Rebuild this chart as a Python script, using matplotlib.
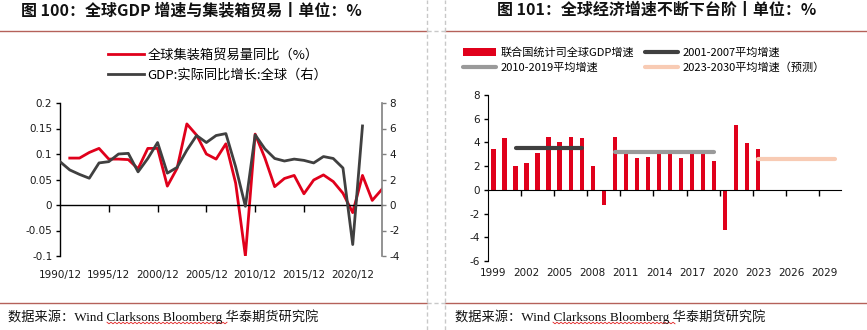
import numpy as np
import matplotlib
matplotlib.use('Agg')
import matplotlib.pyplot as plt
from matplotlib.lines import Line2D

plt.rcParams['font.family'] = ['Noto Sans CJK SC', 'DejaVu Sans']
plt.rcParams['axes.unicode_minus'] = False

# ---- left chart: container trade vs global GDP ----
trade_years = list(range(1991, 2024))
trade_yoy = [0.092, 0.092, 0.103, 0.111, 0.090, 0.090, 0.089, 0.071, 0.111, 0.111,
             0.037, 0.072, 0.159, 0.137, 0.100, 0.090, 0.120, 0.043, -0.100, 0.139,
             0.092, 0.036, 0.052, 0.058, 0.022, 0.049, 0.059, 0.046, 0.023, -0.015,
             0.058, 0.009, 0.031]
gdp_years = list(range(1990, 2022))
gdp_yoy = [3.4, 2.75, 2.4, 2.1, 3.3, 3.4, 4.0, 4.05, 2.6, 3.65,
           4.9, 2.5, 2.95, 4.3, 5.45, 4.9, 5.45, 5.6, 3.0, -0.1,
           5.5, 4.4, 3.65, 3.45, 3.6, 3.5, 3.3, 3.8, 3.65, 2.9,
           -3.1, 6.2]
left_xticks = [1990, 1995, 2000, 2005, 2010, 2015, 2020]
left_xlabels = ['1990/12', '1995/12', '2000/12', '2005/12', '2010/12', '2015/12', '2020/12']
left_yticks = [-0.1, -0.05, 0, 0.05, 0.1, 0.15, 0.2]
left_ylabels = ['-0.1', '-0.05', '0', '0.05', '0.1', '0.15', '0.2']
right_yticks = [-4, -2, 0, 2, 4, 6, 8]

# ---- right chart: world GDP growth ----
un_years = list(range(1999, 2031))
un_gdp = [3.44, 4.38, 2.0, 2.25, 3.1, 4.47, 4.04, 4.47, 4.38, 2.0,
          -1.31, 4.47, 3.36, 2.67, 2.76, 3.1, 3.1, 2.67, 3.25, 3.2,
          2.42, -3.36, 5.49, 3.95, 3.44, np.nan, np.nan, np.nan, np.nan, np.nan,
          np.nan, np.nan]
avg_labels = ['2001-2007平均增速', '2010-2019平均增速', '2023-2030平均增速（预测）']
avg_start = [2001, 2010, 2023]
avg_end = [2007, 2019, 2030]
avg_value = [3.55, 3.16, 2.58]
bar_yticks = [-6, -4, -2, 0, 2, 4, 6, 8]

RED = '#e0001b'
DARK = '#404040'
avg_colors = ['#404040', '#9a9a9a', '#f8cbb4']
TXT = '#1a1a1a'

W, H = 867, 330
fig = plt.figure(figsize=(W / 100, H / 100), dpi=100)


def box(l, t, r, b):
    return [l / W, 1 - b / H, (r - l) / W, (b - t) / H]


# ---------- left chart ----------
ax = fig.add_axes(box(60, 103, 382, 256))
ax2 = ax.twinx()
l1, = ax.plot(trade_years, trade_yoy, color=RED, lw=2, label='全球集装箱贸易量同比（%）')
l2, = ax2.plot(gdp_years, gdp_yoy, color=DARK, lw=2, label='GDP:实际同比增长:全球（右）')
ax.set_xlim(1990, 2023)
ax.set_ylim(-0.1, 0.2)
ax2.set_ylim(-4, 8)
for s in ['top', 'right']:
    ax.spines[s].set_visible(False)
for s in ['top', 'left']:
    ax2.spines[s].set_visible(False)
ax2.spines['bottom'].set_visible(False)
ax.spines['bottom'].set_position(('data', 0))
ax.spines['bottom'].set_linewidth(1)
ax.spines['left'].set_linewidth(1)
ax2.spines['right'].set_color('#808080')
ax2.spines['right'].set_linewidth(1.2)
ax.set_xticks(left_xticks[1:])
ax.tick_params(axis='x', direction='out', length=5, labelbottom=False, width=1)
ax.set_yticks(left_yticks)
ax.set_yticklabels(left_ylabels, family='DejaVu Sans', fontsize=7.5, color=TXT)
ax.tick_params(axis='y', direction='out', length=3, pad=2.5, width=1)
ax2.set_yticks(right_yticks)
ax2.set_yticklabels([str(v) for v in right_yticks], family='DejaVu Sans', fontsize=7.5, color=TXT)
ax2.tick_params(axis='y', direction='out', length=3, pad=2.5, color='#808080', width=1)
sx = ax.secondary_xaxis(0)
sx.set_xticks(left_xticks)
sx.set_xticklabels(left_xlabels, family='DejaVu Sans', fontsize=7.5, color=TXT)
sx.tick_params(length=0, pad=10)
sx.spines['bottom'].set_visible(False)
fig.legend(handles=[l1, l2], loc='upper left', bbox_to_anchor=(108 / W, 1 - 49 / H),
           frameon=False, fontsize=9.5, handlelength=2.7, handletextpad=0.3,
           labelspacing=0.5, borderpad=0, borderaxespad=0)

# ---------- right chart ----------
bx = fig.add_axes(box(488, 95, 841, 261))
idx = np.arange(len(un_years))
bars = bx.bar(idx, un_gdp, width=0.4, color=RED, label='联合国统计司全球GDP增速', zorder=2)
avg_lines = []
for lab, a, b, v, c in zip(avg_labels, avg_start, avg_end, avg_value, avg_colors):
    i0, i1 = un_years.index(a), un_years.index(b)
    ln, = bx.plot([i0, i1], [v, v], color=c, lw=3, solid_capstyle='round', label=lab, zorder=3)
    avg_lines.append(ln)
bx.set_xlim(-0.5, len(un_years) - 0.5)
bx.set_ylim(-6, 8)
for s in ['top', 'right']:
    bx.spines[s].set_visible(False)
bx.spines['bottom'].set_position(('data', 0))
bx.set_xticks(np.arange(2.5, len(un_years) - 1, 3))
bx.tick_params(axis='x', direction='out', length=4, labelbottom=False, width=1)
bx.set_yticks(bar_yticks)
bx.set_yticklabels([str(v) for v in bar_yticks], family='DejaVu Sans', fontsize=7.5, color=TXT)
bx.tick_params(axis='y', direction='out', length=3, pad=2.5, width=1)
sbx = bx.secondary_xaxis(0)
sbx.set_xticks(idx[::3])
sbx.set_xticklabels([str(y) for y in un_years[::3]], family='DejaVu Sans', fontsize=7.5, color=TXT)
sbx.tick_params(length=0, pad=5)
sbx.spines['bottom'].set_visible(False)
fig.legend(handles=[bars, avg_lines[1], avg_lines[0], avg_lines[2]], ncol=2,
           loc='upper left', bbox_to_anchor=(463 / W, 1 - 47 / H), frameon=False,
           fontsize=8, handlelength=3.0, handletextpad=0.35, labelspacing=0.4,
           columnspacing=1.0, borderpad=0, borderaxespad=0)

# ---------- titles, rules, footers ----------
fig.text(21 / W, 1 - 10 / H, '图 100：全球GDP 增速与集装箱贸易丨单位：%', fontsize=11.5,
         fontweight='bold', va='center', ha='left', color='#111111')
fig.text(497 / W, 1 - 10 / H, '图 101：全球经济增速不断下台阶丨单位：%', fontsize=11.5,
         fontweight='bold', va='center', ha='left', color='#111111')
rule = '#b5615a'
for y in [31, 303]:
    fig.add_artist(Line2D([0, 427 / W], [1 - y / H] * 2, color=rule, lw=1))
    fig.add_artist(Line2D([445 / W, 1], [1 - y / H] * 2, color=rule, lw=1))
    fig.add_artist(Line2D([427 / W, 445 / W], [1 - y / H] * 2, color='#c8c8c8', lw=1, ls=(0, (3, 2))))
for x in [427, 445]:
    fig.add_artist(Line2D([x / W] * 2, [0, 1], color='#c8c8c8', lw=1, ls=(0, (3, 2))))
src = '数据来源：Wind Clarksons Bloomberg 华泰期货研究院'
for x0, s0, s1 in [(8, 107, 228), (455, 553, 675)]:
    fig.text(x0 / W, 1 - 317 / H, src, fontsize=9.5, va='center', ha='left',
             family=['Liberation Serif', 'Noto Sans CJK SC'], color='#111111')
    xs = np.arange(s0, s1 + 1, 2)
    ys = 323 + np.where(np.arange(len(xs)) % 2 == 0, -0.8, 0.8)
    fig.add_artist(Line2D(xs / W, 1 - ys / H, color='#e02020', lw=0.6))

fig.savefig('out.png', dpi=100)
